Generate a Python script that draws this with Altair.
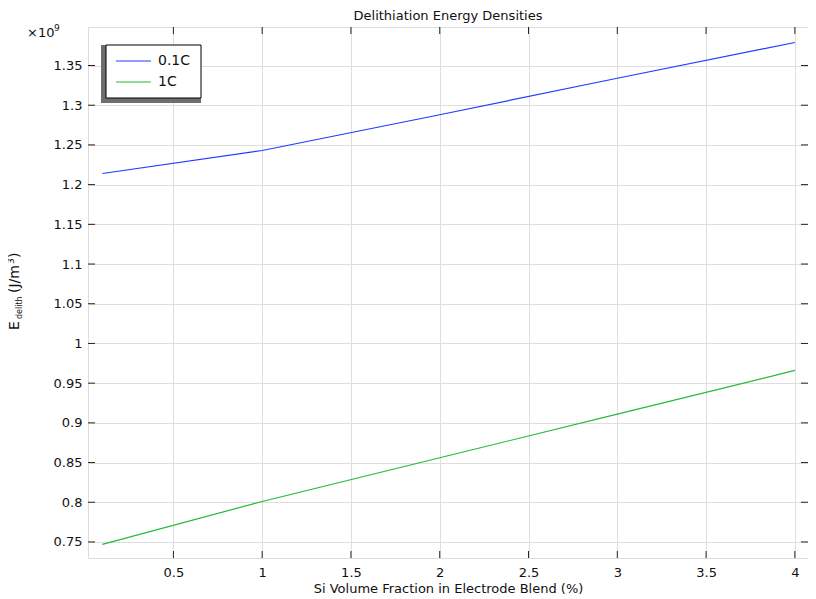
import altair as alt
import pandas as pd

# ---- data ----
x_vals = [0.1, 1, 2, 3, 4]
series_names = ["0.1C", "1C"]
series_colors = ["#1f3dff", "#22bb33"]
e_01C = [1.214, 1.243, 1.288, 1.334, 1.379]
e_1C = [0.747, 0.801, 0.856, 0.911, 0.966]

x_ticks = [0.5, 1, 1.5, 2, 2.5, 3, 3.5, 4]
y_ticks = [0.75, 0.8, 0.85, 0.9, 0.95, 1.0, 1.05, 1.1, 1.15, 1.2, 1.25, 1.3, 1.35]

chart_title = "Delithiation Energy Densities"
x_title = "Si Volume Fraction in Electrode Blend (%)"

W, H = 720, 531
FONT = "DejaVu Sans"

rows = []
for name, vals in zip(series_names, [e_01C, e_1C]):
    for xv, yv in zip(x_vals, vals):
        rows.append({"x": xv, "y": yv, "series": name})
df = pd.DataFrame(rows)

xscale = alt.Scale(domain=[0.019, 4.074], nice=False, zero=False)
yscale = alt.Scale(domain=[0.7298, 1.3985], nice=False, zero=False)
cscale = alt.Scale(domain=series_names, range=series_colors)

lines = alt.Chart(df).mark_line(strokeWidth=1.2).encode(
    x=alt.X("x:Q", scale=xscale,
            axis=alt.Axis(values=x_ticks, format="~g", ticks=False, domain=False,
                          grid=True, gridColor="#dedede", labelPadding=8,
                          labelFontSize=13, labelColor="#111", title=x_title,
                          titleFontSize=13, titleFontWeight="normal", titleColor="#111",
                          titlePadding=3, labelFont=FONT, titleFont=FONT)),
    y=alt.Y("y:Q", scale=yscale,
            axis=alt.Axis(values=y_ticks, format="~g", ticks=False, domain=False,
                          grid=True, gridColor="#dedede", labelPadding=6,
                          labelFontSize=13, labelColor="#111", title=None, labelFont=FONT)),
    color=alt.Color("series:N", scale=cscale, legend=None),
    detail="series:N",
)

xt = pd.DataFrame({"v": x_ticks})
yt = pd.DataFrame({"v": y_ticks})
tick_color = "#222"
bottom_ticks = alt.Chart(xt).mark_rule(color=tick_color).encode(
    x=alt.X("v:Q", scale=xscale), y=alt.value(H), y2=alt.value(H - 7))
top_ticks = alt.Chart(xt).mark_rule(color=tick_color).encode(
    x=alt.X("v:Q", scale=xscale), y=alt.value(0), y2=alt.value(7))
left_ticks = alt.Chart(yt).mark_rule(color=tick_color).encode(
    y=alt.Y("v:Q", scale=yscale), x=alt.value(0), x2=alt.value(7))
right_ticks = alt.Chart(yt).mark_rule(color=tick_color).encode(
    y=alt.Y("v:Q", scale=yscale), x=alt.value(W), x2=alt.value(W - 7))


def txt(s, x, y, size=13, angle=0, align="left", baseline="middle"):
    kw = dict(font=FONT, fontSize=size, align=align, baseline=baseline, color="#111")
    if angle:
        kw["angle"] = angle
    return alt.Chart(pd.DataFrame({"t": [s]})).mark_text(**kw).encode(
        text="t:N", x=alt.value(x), y=alt.value(y))


# legend (manual, with shadow)
leg_shadow = alt.Chart(pd.DataFrame({"a": [0]})).mark_rect(color="#6e6e6e").encode(
    x=alt.value(13), x2=alt.value(113), y=alt.value(18), y2=alt.value(76))
leg_box = alt.Chart(pd.DataFrame({"a": [0]})).mark_rect(
    fill="white", stroke="black", strokeWidth=1).encode(
    x=alt.value(18), x2=alt.value(113), y=alt.value(18), y2=alt.value(71))
leg_layers = [leg_shadow, leg_box]
for i, (name, col) in enumerate(zip(series_names, series_colors)):
    yy = 34 + 21 * i
    leg_layers.append(alt.Chart(pd.DataFrame({"a": [0]})).mark_rule(
        color=col, strokeWidth=1.2).encode(x=alt.value(28), x2=alt.value(63), y=alt.value(yy)))
    leg_layers.append(txt(name, 70, yy, size=14))

annotations = [
    txt(chart_title, W / 2, -11, size=13, align="center"),
    txt("\u00d710", -61, 6, size=13),
    txt("9", -34, 1, size=9),
    # y-axis title: E_delith (J/m^3)
    txt("E", -69, 303, size=14, angle=270, baseline="alphabetic"),
    txt("delith", -66, 292, size=8, angle=270, baseline="alphabetic"),
    txt("(J/m", -69, 266, size=14, angle=270, baseline="alphabetic"),
    txt("3", -74, 237, size=9, angle=270, baseline="alphabetic"),
    txt(")", -69, 231, size=14, angle=270, baseline="alphabetic"),
]

chart = alt.layer(
    lines, bottom_ticks, top_ticks, left_ticks, right_ticks,
    *leg_layers, *annotations
).properties(
    width=W, height=H,
    autosize=alt.AutoSizeParams(type="none"),
    padding={"left": 80, "top": 19, "right": 0, "bottom": 40},
).configure_view(stroke="black", strokeWidth=1.2).configure(background="white")

chart.save("out.html", embed_options={"renderer": "svg", "actions": False})
